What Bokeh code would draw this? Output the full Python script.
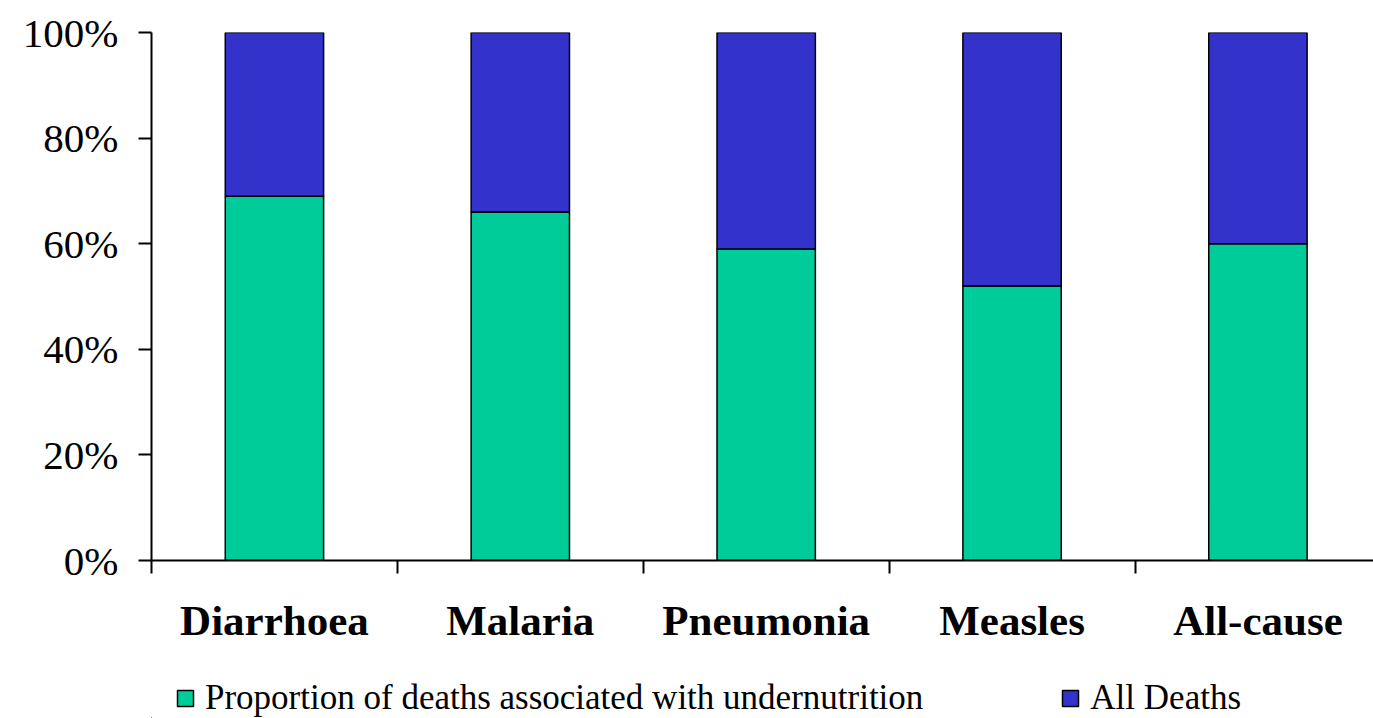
from bokeh.plotting import figure
from bokeh.layouts import column
from bokeh.models import (Range1d, FixedTicker, Legend, LegendItem,
                          ColumnDataSource, PrintfTickFormatter)
from bokeh.embed import file_html
from bokeh.resources import INLINE

# Share of deaths (%) by cause
causes = ["Diarrhoea", "Malaria", "Pneumonia", "Measles", "All-cause"]
undernutrition = [69, 66, 59, 52, 60]
all_deaths = [31, 34, 41, 48, 40]
y_ticks = [0, 20, 40, 60, 80, 100]
series_labels = ["Proportion of deaths associated with undernutrition", "All Deaths"]

GREEN = "#00CC99"
BLUE = "#3333CC"
SERIF = "Liberation Serif"

centers = [i + 0.5 for i in range(len(causes))]
bounds = [float(i) for i in range(len(causes) + 1)]
src = ColumnDataSource(dict(x=centers, under=undernutrition, rest=all_deaths))

# ---- main chart -------------------------------------------------------
p = figure(frame_width=1222, frame_height=528, output_backend="svg",
           toolbar_location=None,
           x_range=Range1d(0, 4.97), y_range=Range1d(0, 100),
           min_border_left=151, min_border_right=0, min_border_top=32,
           min_border_bottom=100)
p.outline_line_color = None
p.xgrid.visible = False
p.ygrid.visible = False

p.vbar_stack(["under", "rest"], x="x", width=0.40, source=src,
             color=[GREEN, BLUE], line_color="black", line_width=1.5)

# y axis: percent ticks
ya = p.yaxis[0]
ya.ticker = FixedTicker(ticks=y_ticks)
ya.formatter = PrintfTickFormatter(format="%d%%")
ya.major_tick_out = 13
ya.major_tick_in = 0
ya.minor_tick_line_color = None
ya.axis_line_width = 2
ya.major_tick_line_width = 2
ya.major_label_text_font = SERIF
ya.major_label_text_font_size = "41px"
ya.major_label_text_color = "black"
ya.major_label_standoff = 20

# x axis: names at bar centres, tick marks at category boundaries
xa = p.xaxis[0]
xa.ticker = FixedTicker(ticks=centers, minor_ticks=bounds)
xa.major_label_overrides = {c: name for c, name in zip(centers, causes)}
xa.major_tick_out = 0
xa.major_tick_in = 0
xa.minor_tick_out = 13
xa.minor_tick_in = 0
xa.minor_tick_line_width = 2
xa.minor_tick_line_color = "black"
xa.axis_line_width = 2
xa.major_label_text_font = SERIF
xa.major_label_text_font_style = "bold"
xa.major_label_text_font_size = "43px"
xa.major_label_text_color = "black"
xa.major_label_standoff = 23

# ---- legend strip -----------------------------------------------------
# A slim companion plot whose bars lie far outside its visible ranges; it
# only hosts the horizontal legend under the chart.
lg = figure(width=1373, height=58, output_backend="svg", toolbar_location=None,
            x_range=Range1d(500, 504.97), y_range=Range1d(1000, 1100),
            x_axis_location=None, y_axis_location=None,
            min_border_left=0, min_border_right=0, min_border_top=0,
            min_border_bottom=0)
lg.outline_line_color = None
lg.grid.visible = False

lrs = lg.vbar_stack(["under", "rest"], x="x", width=0.40, source=src,
                    color=[GREEN, BLUE], line_color="black", line_width=1.5)

# the strip's frame lines up with the chart's frame (left edge at 151 px)
legend = Legend(items=[LegendItem(label=lab, renderers=[r])
                       for lab, r in zip(series_labels, lrs)],
                orientation="horizontal", location=(24, 0))
legend.glyph_width = 20
legend.glyph_height = 20
legend.label_standoff = 10
legend.spacing = 137
legend.padding = 0
legend.margin = 0
legend.border_line_color = None
legend.background_fill_alpha = 0
legend.label_text_font = SERIF
legend.label_text_font_size = "35px"
legend.label_text_color = "black"
lg.add_layout(legend, "center")

layout = column(p, lg, spacing=0)
open("out.html", "w").write(file_html(layout, INLINE))
